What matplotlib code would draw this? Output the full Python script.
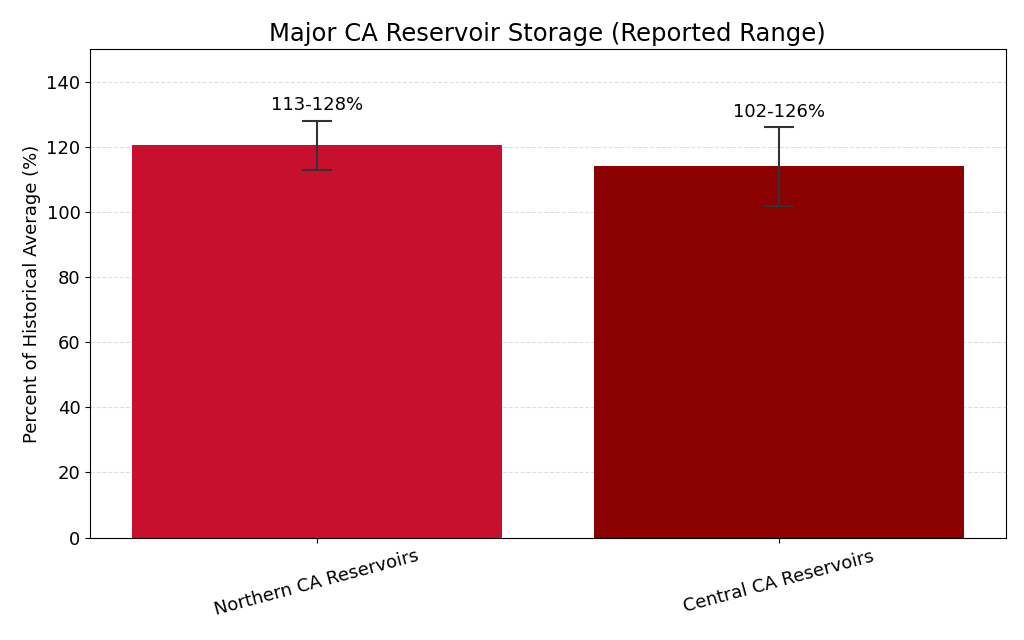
import matplotlib.pyplot as plt
import numpy as np

# reported ranges (% of historical average)
regions = ['Northern CA Reservoirs', 'Central CA Reservoirs']
low = [113, 102]
high = [128, 126]
colors = ['#C8102E', '#8B0000']

low = np.array(low)
high = np.array(high)
mid = (low + high) / 2
err = (high - low) / 2

fig, ax = plt.subplots(figsize=(10.24, 6.4), dpi=100)
x = np.arange(len(regions))
ax.bar(x, mid, width=0.8, color=colors, yerr=err, capsize=11,
       error_kw=dict(ecolor='#333333', elinewidth=1.5, capthick=1.5))

for xi, lo, hi in zip(x, low, high):
    ax.text(xi, hi + 2, f'{lo}-{hi}%', ha='center', va='bottom', fontsize=13)

ax.set_xticks(x)
ax.set_xticklabels(regions, rotation=15, fontsize=13)
ax.set_ylim(0, 150)
ax.tick_params(axis='y', labelsize=13)
ax.set_ylabel('Percent of Historical Average (%)', fontsize=13)
ax.set_title('Major CA Reservoir Storage (Reported Range)', fontsize=17.5)
ax.yaxis.grid(True, linestyle='--', alpha=0.4)
ax.set_axisbelow(True)

plt.subplots_adjust(left=0.088, right=0.982, top=0.923, bottom=0.16)
fig.savefig('out.png', dpi=100)
